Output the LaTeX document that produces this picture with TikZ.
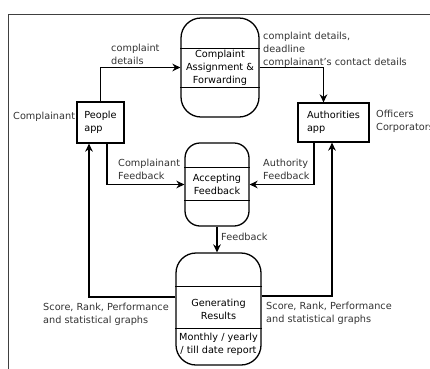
\documentclass[tikz,border=0pt]{standalone}
\usepackage{fontspec}
\setmainfont{DejaVu Sans}
\usetikzlibrary{arrows.meta,positioning,calc}
\tikzset{
  dfd/process/.style={draw, line width=1.1pt, rounded corners=0.6cm, align=center, inner sep=1pt},
  dfd/entity/.style={draw, line width=1.1pt, align=left, inner sep=0pt},
  dfd/divider/.style={line width=1.1pt},
  dfd/flow/.style={line width=1.1pt, -{Stealth[length=2.4mm,width=2.3mm]}},
  dfd/label/.style={inner sep=0pt, align=left, anchor=west, text=black!80},
  dfd/frame/.style={draw=black!75, line width=0.8pt}
}

\begin{document}
\begin{tikzpicture}[x=0.03cm, y=-0.03cm,
  every node/.style={font=\fontsize{8.3}{11}\selectfont}
]
\useasboundingbox (0,0) rectangle (430,368);
\clip (0,0) rectangle (430,368);
\draw[dfd/frame] (8,14) rectangle (440,380);

% processes
\node[dfd/process, minimum width=2.34cm, minimum height=2.97cm] (assign) at (220,67.5)
  {Complaint\\Assignment \&\\Forwarding};
\draw[dfd/divider] ($(assign.north west)+(0,31)$) -- ($(assign.north east)+(0,31)$);
\draw[dfd/divider] ($(assign.north west)+(0,70)$) -- ($(assign.north east)+(0,70)$);

\node[dfd/process, rounded corners=0.45cm, minimum width=1.92cm, minimum height=2.49cm] (accept) at (217,184.5)
  {Accepting\\Feedback};
\draw[dfd/divider] ($(accept.north west)+(0,25)$) -- ($(accept.north east)+(0,25)$);
\draw[dfd/divider] ($(accept.north west)+(0,58)$) -- ($(accept.north east)+(0,58)$);

\node[dfd/process, minimum width=2.55cm, minimum height=3.36cm] (results) at (218.5,309)
  {Generating\\Results};
\draw[dfd/divider] ($(results.north west)+(0,34)$) -- ($(results.north east)+(0,34)$);
\draw[dfd/divider] ($(results.north west)+(0,76)$) -- ($(results.north east)+(0,76)$);
\node[align=center, inner sep=0pt] (report) at (218.5,344) {Monthly / yearly\\/ till date report};

% external entities
\node[dfd/entity, minimum width=1.41cm, minimum height=1.23cm] (people) at (100.5,122.5) {People\\app};
\node[dfd/entity, minimum width=2.13cm, minimum height=1.17cm] (authority) at (333.5,122.5) {Authorities\\app};

\coordinate (auth in) at ($(authority.north)+(-10,0)$);
\coordinate (auth out) at ($(authority.south)+(-19.5,0)$);
\coordinate (auth res) at ($(authority.south)+(-1.5,0)$);
\coordinate (people out) at ($(people.south)+(6.5,0)$);
\coordinate (people res) at ($(people.south)+(-11.5,0)$);
\coordinate (results w) at ($(results.west)+(0,-12)$);
\coordinate (results e) at ($(results.east)+(0,-13)$);

% flows
\draw[dfd/flow] (people.north) |- (assign.west);
\draw[dfd/flow] (assign.east) -| (auth in);
\draw[dfd/flow] (auth out) |- (accept.east);
\draw[dfd/flow] (people out) |- (accept.west);
\draw[dfd/flow] (accept.south) -- (accept.south |- results.north);
\draw[dfd/flow] (results w) -| (people res);
\draw[dfd/flow] (results e) -| (auth res);

% labels
\node[dfd/label] (l1) at (111,54.5) {complaint\\details};
\node[dfd/label] (l2) at (263,49.5) {complaint details,\\deadline\\complainant's contact details};
\node[dfd/label] (l3) at (13,117) {Complainant};
\node[dfd/label] (l4) at (376,121) {Officers\\Corporators};
\node[dfd/label] (l5) at (118,169.5) {Complainant\\Feedback};
\node[dfd/label] (l6) at (263,169) {Authority\\Feedback};
\node[dfd/label] (l7) at (221,237) {Feedback};
\node[dfd/label] (l8) at (43,314.5) {Score, Rank, Performance\\and statistical graphs};
\node[dfd/label] (l9) at (266,313.5) {Score, Rank, Performance\\and statistical graphs};

\end{tikzpicture}
\end{document}
